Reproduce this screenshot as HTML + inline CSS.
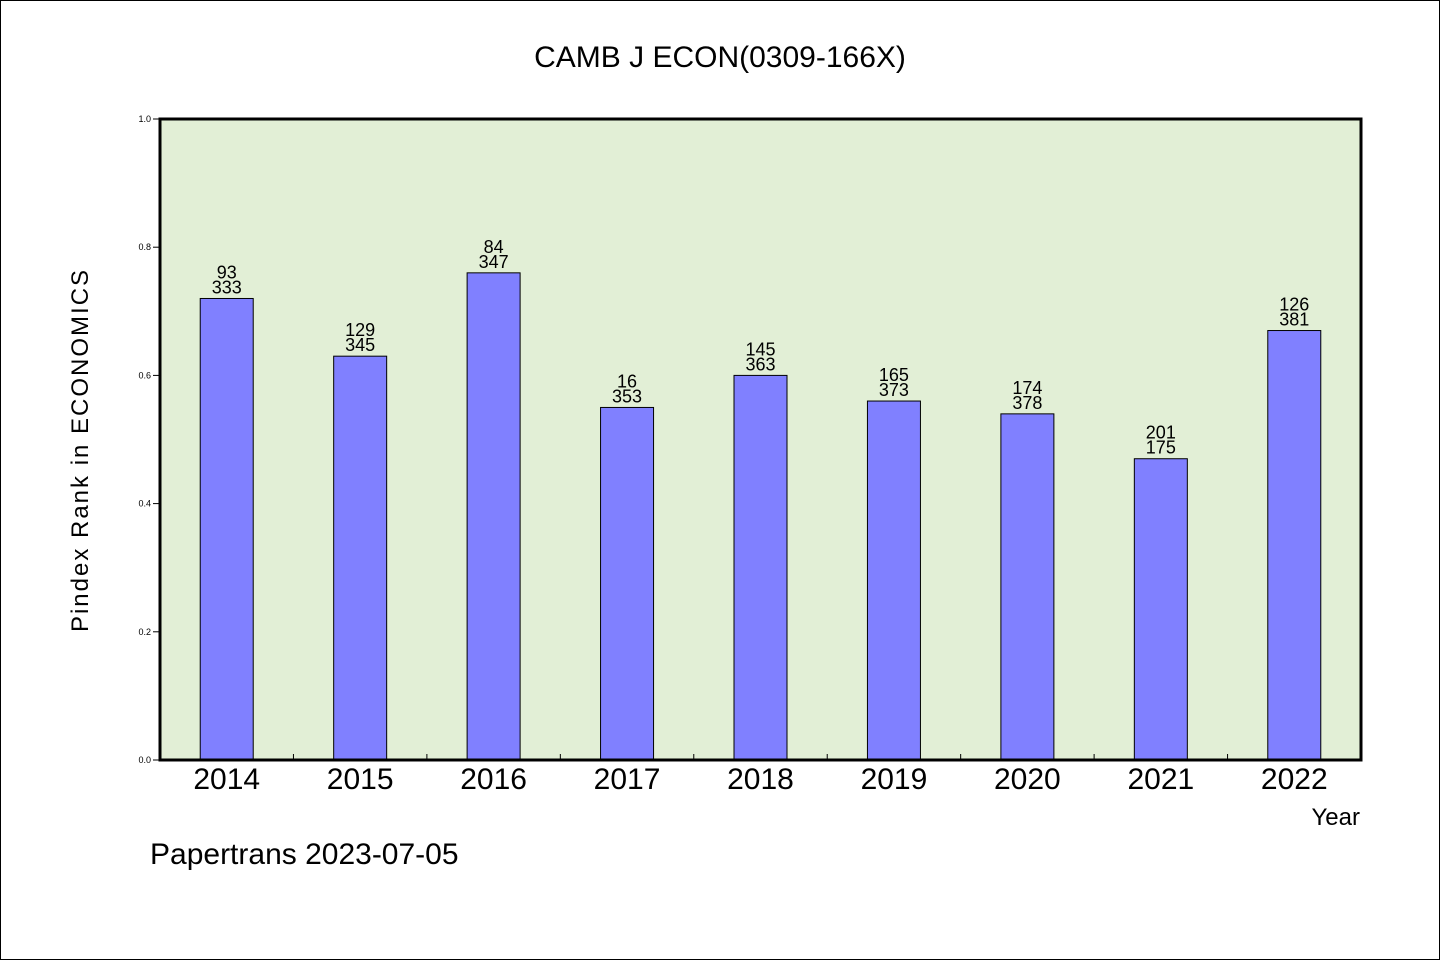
<!DOCTYPE html>
<html><head><meta charset="utf-8"><style>
html,body{margin:0;padding:0;background:#fff}
svg text{font-family:"WenQuanYi Zen Hei","Liberation Sans",sans-serif;fill:#000}
</style></head><body>
<svg id="chart" width="1440" height="960" viewBox="0 0 1440 960" xmlns="http://www.w3.org/2000/svg">
<rect x="0.5" y="0.5" width="1439" height="959" fill="#fff" stroke="#000"/>
<text x="720" y="67" font-size="30" text-anchor="middle">CAMB J ECON(0309-166X)</text>
<rect x="160" y="119" width="1201" height="641" fill="#e2efd6"/>
<g id="bars"></g>
<g id="axes"></g>
<rect x="160" y="119" width="1201" height="641" fill="none" stroke="#000" stroke-width="3"/>
<text transform="translate(88,450) rotate(-90)" font-size="24" text-anchor="middle" letter-spacing="2">Pindex Rank in ECONOMICS</text>
<text x="1360" y="825" font-size="24" text-anchor="end">Year</text>
<text x="150" y="864" font-size="30">Papertrans 2023-07-05</text>
</svg>
<script>
const categories = ["2014","2015","2016","2017","2018","2019","2020","2021","2022"];
const values = [0.72,0.63,0.76,0.55,0.60,0.56,0.54,0.47,0.67];
const topLabels = ["93","129","84","16","145","165","174","201","126"];
const bottomLabels = ["333","345","347","353","363","373","378","175","381"];
const yTicks = [0,0.2,0.4,0.6,0.8,1.0];
const yTickLabels = ["0.0","0.2","0.4","0.6","0.8","1.0"];

const NS="http://www.w3.org/2000/svg";
const X0=160,X1=1361,Y0=760,Y1=119;
const band=(X1-X0)/categories.length;
const xc=i=>X0+band*(i+0.5);
const y=v=>Y0-(Y0-Y1)*v;
const bars=document.getElementById('bars'), axes=document.getElementById('axes');
function mk(tag,attrs,parent){const e=document.createElementNS(NS,tag);for(const k in attrs)e.setAttribute(k,attrs[k]);parent.appendChild(e);return e;}
categories.forEach((c,i)=>{
  const bw=53;
  const r=mk('rect',{x:xc(i)-bw/2,y:y(values[i]),width:bw,height:Y0-y(values[i]),fill:'#8080ff',stroke:'#000','stroke-width':1},bars);
  
  
  const t1=mk('text',{x:xc(i),y:y(values[i])-20,'font-size':18,'text-anchor':'middle'},bars);
  t1.textContent=topLabels[i];
  
  
  const t2=mk('text',{x:xc(i),y:y(values[i])-5,'font-size':18,'text-anchor':'middle'},bars);
  t2.textContent=bottomLabels[i];
  
  
  const xl=mk('text',{x:xc(i),y:789,'font-size':30,'text-anchor':'middle'},axes);
  xl.textContent=c;
  
  
  if(i>0){
    const tk=mk('line',{x1:X0+band*i,x2:X0+band*i,y1:Y0,y2:Y0-6,stroke:'#000'},axes);
    
    
  }
});
yTicks.forEach((v,i)=>{
  const tk=mk('line',{x1:X0-7,x2:X0,y1:y(v),y2:y(v),stroke:'#000'},axes);
  
  
  const tl=mk('text',{x:X0-9,y:y(v)+3,'font-size':9,'text-anchor':'end'},axes);
  tl.textContent=yTickLabels[i];
  
  
});
</script>
</body></html>
